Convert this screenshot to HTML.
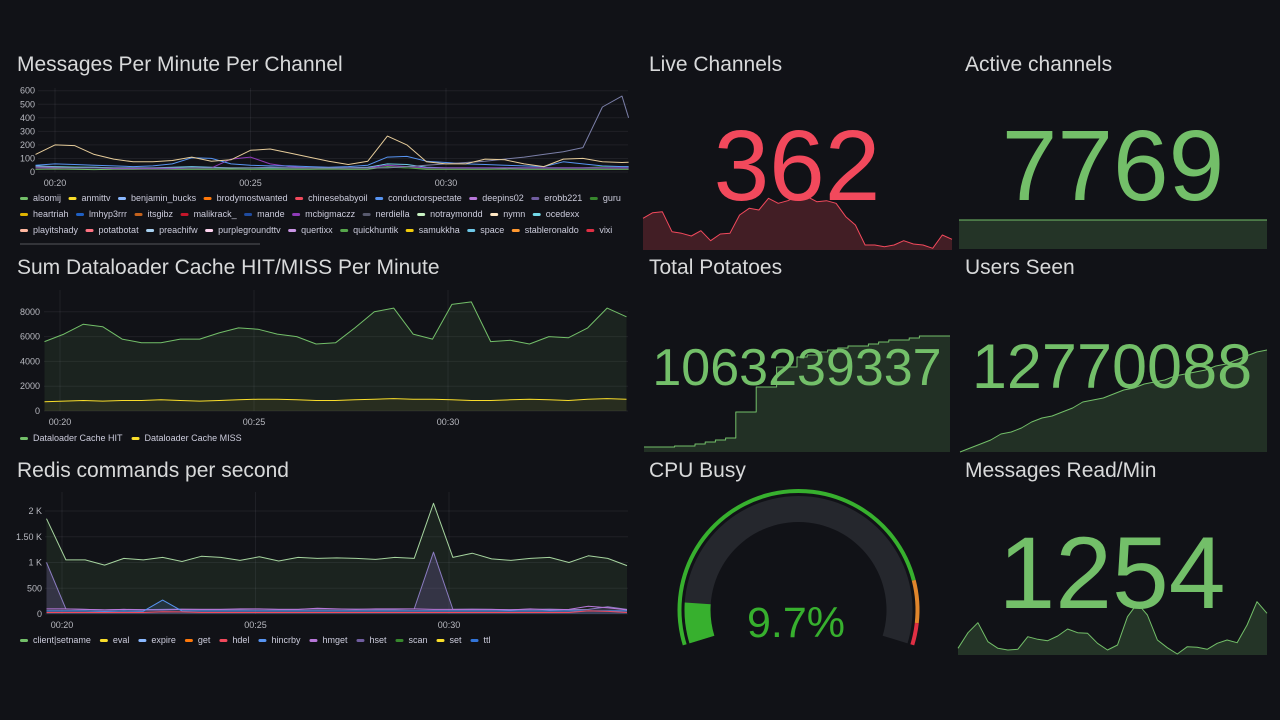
<!DOCTYPE html>
<html><head><meta charset="utf-8"><title>Dashboard</title>
<style>
html,body{margin:0;padding:0;background:#111217;}
svg{display:block;font-family:"Liberation Sans",sans-serif;}
</style></head>
<body>
<svg id="dash" width="1280" height="720" viewBox="0 0 1280 720">
<rect x="0" y="0" width="1280" height="720" fill="#111217"/>
<g font-size="21" fill="#d8d9da">
<text x="17" y="71">Messages Per Minute Per Channel</text>
<text x="17" y="274">Sum Dataloader Cache HIT/MISS Per Minute</text>
<text x="17" y="477">Redis commands per second</text>
<text x="649" y="71">Live Channels</text>
<text x="965" y="71">Active channels</text>
<text x="649" y="274">Total Potatoes</text>
<text x="965" y="274">Users Seen</text>
<text x="649" y="477">CPU Busy</text>
<text x="965" y="477">Messages Read/Min</text>
</g>
<g id="layer"></g>
</svg>
<script>
// ---- Chart 1: messages per minute per channel ----
const t1 = [19.5,20,20.5,21,21.5,22,22.5,23,23.5,24,24.5,25,25.5,26,26.5,27,27.5,28,28.5,29,29.5,30,30.5,31,31.5,32,32.5,33,33.5,34,34.5,34.67];
const nymnVals = [130,200,195,130,95,75,75,85,110,80,90,160,170,140,110,80,55,80,265,200,75,60,60,95,90,60,40,95,100,75,70,72];
const erobbVals = [40,35,30,30,30,30,30,30,30,30,30,30,35,30,30,30,30,30,30,40,50,60,70,80,95,110,130,150,180,480,560,400];
const conductorVals = [50,60,55,50,45,40,45,60,105,100,60,50,45,45,40,35,40,50,110,115,80,70,60,55,50,45,40,75,60,45,40,40];
const mcbigVals = [30,30,30,30,25,25,25,25,30,30,95,110,60,40,30,30,30,30,50,40,30,30,30,30,30,30,30,30,30,30,30,30];
const alsomijVals = [20,22,20,18,20,20,22,20,20,20,22,20,20,20,20,22,20,20,40,30,20,20,20,20,22,20,20,20,20,20,20,20];
const guruVals = [35,40,38,35,30,30,28,30,30,28,30,30,28,30,30,28,30,30,35,30,28,30,30,28,30,30,30,30,30,40,40,40];
const spaceVals = [45,40,35,35,30,30,30,35,40,35,30,30,30,30,30,30,30,35,60,55,35,30,30,30,30,30,30,30,30,30,30,30];
const ticks1 = [0,100,200,300,400,500,600];
const timeTicks = [20,25,30];
const timeLabels = ["00:20","00:25","00:30"];
const legend1 = [
 ["alsomij","anmittv","benjamin_bucks","brodymostwanted","chinesebabyoil","conductorspectate","deepins02","erobb221","guru"],
 ["heartriah","lmhyp3rrr","itsgibz","malikrack_","mande","mcbigmaczz","nerdiella","notraymondd","nymn","ocedexx"],
 ["playitshady","potatbotat","preachifw","purplegroundttv","quertixx","quickhuntik","samukkha","space","stableronaldo","vixi"]
];
const legend1Colors = [
 ["#73bf69","#fade2a","#8ab8ff","#ff780a","#f2495c","#5794f2","#b877d9","#705da0","#37872d"],
 ["#e0b400","#1f60c4","#c4621c","#c4162a","#1f4b9e","#8f3bb8","#585a6e","#c8f2c2","#ffe7c4","#73d9e8"],
 ["#ffb8a0","#ff7383","#a8d0f0","#ffd4f0","#ca95e5","#56a64b","#f2cc0c","#6ec8e8","#ff9830","#e02f44"]
];
// ---- Chart 2: dataloader ----
const t2 = [19.6,20.1,20.6,21.1,21.6,22.1,22.6,23.1,23.6,24.1,24.6,25.1,25.6,26.1,26.6,27.1,27.6,28.1,28.6,29.1,29.6,30.1,30.6,31.1,31.6,32.1,32.6,33.1,33.6,34.1,34.6];
const hitVals = [5600,6200,7000,6800,5800,5500,5500,5800,5800,6300,6700,6600,6200,6000,5400,5500,6700,8000,8300,6200,5800,8600,8800,5600,5700,5400,6000,5900,6700,8300,7600];
const missVals = [750,800,850,800,850,850,900,850,800,850,900,950,950,900,850,850,900,950,1000,950,950,900,850,850,900,950,900,850,950,1000,950];
const ticks2 = [0,2000,4000,6000,8000];
// ---- Chart 3: redis ----
const clientVals = [1850,1050,1050,950,1080,1050,1100,1020,1120,1100,1040,1110,1030,1100,1080,1090,1080,1060,1100,1080,2150,1100,1180,1070,1040,1080,1100,1000,1130,1080,940];
const hsetVals = [1000,100,90,80,90,85,90,95,90,90,90,95,90,90,100,95,95,90,90,100,1200,90,95,90,85,90,95,85,90,140,90];
const hincrbyVals = [60,60,60,50,60,55,270,60,60,60,60,60,60,60,60,60,60,60,60,60,60,60,60,60,60,60,60,60,60,60,60];
const hmgetVals = [100,100,90,80,90,80,80,90,90,90,100,100,90,90,110,100,90,100,100,100,90,90,90,90,80,100,80,90,150,120,80];
const hdelVals = [30,30,30,30,30,30,45,40,30,30,30,30,30,30,30,30,30,30,30,30,30,30,30,30,30,30,30,30,60,50,30];
const ticks3 = [0,500,1000,1500,2000];
const ticks3Labels = ["0","500","1 K","1.50 K","2 K"];
const legend3 = ["client|setname","eval","expire","get","hdel","hincrby","hmget","hset","scan","set","ttl"];
const legend3Colors = ["#73bf69","#fade2a","#8ab8ff","#ff780a","#f2495c","#5794f2","#b877d9","#705da0","#37872d","#fade2a","#3274d9"];
// ---- Stat sparklines ----
const liveVals = [95,112,115,55,50,42,58,28,48,50,105,125,120,155,140,148,162,160,145,148,140,100,75,15,15,10,15,28,18,15,5,45,32];
const activeVals = [7769,7769,7769,7769,7769,7769,7769,7769,7769,7769];
const potatoVals = [5,5,5,6,6,8,10,12,14,40,40,65,65,85,85,95,97,100,102,104,106,106,108,110,112,112,114,116,116,116,116];
const usersVals = [0,4,8,12,18,20,24,30,34,36,40,44,50,52,54,58,62,64,68,70,72,76,78,80,82,86,88,92,96,100,102];
const readVals = [20,67,97,40,20,15,17,55,47,43,57,78,67,65,35,15,30,115,155,120,45,22,3,25,23,17,35,45,37,90,160,125];
const cpuValue = 9.7;
const statValues = ["362","7769","1063239337","12770088","1254"];

const NS = "http://www.w3.org/2000/svg";
const layer = document.getElementById("layer");
function mk(tag, attrs, parent){ const e=document.createElementNS(NS,tag); for(const k in attrs) e.setAttribute(k,attrs[k]); (parent||layer).appendChild(e); return e; }
function pathFrom(xs, ys){ return xs.map((x,i)=>(i?"L":"M")+x.toFixed(1)+","+ys[i].toFixed(1)).join(""); }

function drawAxes(g, xf, yf, yticks, ylabels, x0, x1, yTop, yBot, labelX, timeY){
  yticks.forEach((v,i)=>{
    const gl = mk("line",{x1:x0,x2:x1,y1:yf(v),y2:yf(v),stroke:"#ccccdc","stroke-opacity":"0.08"},g);
    
    
    const tl = mk("text",{x:labelX,y:yf(v)+3,"text-anchor":"end","font-size":"9",fill:"#b8b9c0"},g);
    tl.textContent = ylabels ? ylabels[i] : String(v);
    
    
  });
  timeTicks.forEach((t,i)=>{
    const vl = mk("line",{x1:xf(t),x2:xf(t),y1:yTop,y2:yBot,stroke:"#ccccdc","stroke-opacity":"0.08"},g);
    
    
    const tl = mk("text",{x:xf(t),y:timeY,"text-anchor":"middle","font-size":"9",fill:"#b8b9c0"},g);
    tl.textContent = timeLabels[i];
    
    
  });
}
function series(g, ts, vals, xf, yf, color, fill, name, base){
  const xs = ts.map(xf), ys = vals.map(yf);
  if(fill){
    const a = mk("path",{d:pathFrom(xs,ys)+"L"+xs[xs.length-1]+","+base+"L"+xs[0]+","+base+"Z",fill:fill,stroke:"none"},g);
    
    
  }
  const l = mk("path",{d:pathFrom(xs,ys),fill:"none",stroke:color,"stroke-width":"1","stroke-linejoin":"round"},g);
  
  
}
function legendRow(g, names, colors, x, y, gap){
  let cx = x;
  names.forEach((n,i)=>{
    const m = mk("rect",{x:cx,y:y-4,width:8,height:3,rx:1.5,fill:colors[i]},g);
    
    
    const t = mk("text",{x:cx+13,y:y,"font-size":"9",fill:"#ccccdc"},g);
    t.textContent = n;
    
    
    cx += 13 + t.getComputedTextLength() + gap;
  });
}

// Chart 1
(function(){
  const g = mk("g",{});  
  const xf = t=>55+(t-20)*39.1, yf = v=>172-v*0.1355;
  drawAxes(g,xf,yf,ticks1,null,38,628,88,172,35,186);
  series(g,t1,alsomijVals,xf,yf,"#73bf69",null,"alsomij");
  series(g,t1,guruVals,xf,yf,"#37872d",null,"guru");
  series(g,t1,spaceVals,xf,yf,"#6ec8e8",null,"space");
  series(g,t1,mcbigVals,xf,yf,"#8f3bb8",null,"mcbigmaczz");
  series(g,t1,conductorVals,xf,yf,"#5794f2",null,"conductorspectate");
  series(g,t1,erobbVals,xf,yf,"#7b7fa8",null,"erobb221");
  series(g,t1,nymnVals,xf,yf,"#e6cc9a",null,"nymn");
  legendRow(g,legend1[0],legend1Colors[0],20,201,7.5);
  legendRow(g,legend1[1],legend1Colors[1],20,217,7.5);
  legendRow(g,legend1[2],legend1Colors[2],20,233,7.5);
  const cut = mk("rect",{x:20,y:243,width:240,height:2,fill:"#55565c","fill-opacity":"0.5"},g);
  
  
})();
// Chart 2
(function(){
  const g = mk("g",{});  
  const xf = t=>60+(t-20)*38.8, yf = v=>411-v*0.0124;
  drawAxes(g,xf,yf,ticks2,null,44,628,290,411,40,425);
  series(g,t2,hitVals,xf,yf,"#73bf69","rgba(115,191,105,0.10)","cache-hit",411);
  series(g,t2,missVals,xf,yf,"#fade2a","rgba(250,222,42,0.06)","cache-miss",411);
  legendRow(g,["Dataloader Cache HIT","Dataloader Cache MISS"],["#73bf69","#fade2a"],20,441,9);
})();
// Chart 3
(function(){
  const g = mk("g",{});  
  const xf = t=>62+(t-20)*38.7, yf = v=>614-v*0.0515;
  drawAxes(g,xf,yf,ticks3,ticks3Labels,45,628,492,614,42,628);
  series(g,t2,clientVals,xf,yf,"#a6d49f","rgba(115,191,105,0.10)","client-setname",614);
  series(g,t2,hsetVals,xf,yf,"#8a7cc0","rgba(112,93,160,0.30)","hset",614);
  series(g,t2,hmgetVals,xf,yf,"#b877d9",null,"hmget");
  series(g,t2,hincrbyVals,xf,yf,"#5794f2","rgba(87,148,242,0.15)","hincrby",614);
  series(g,t2,hdelVals,xf,yf,"#f2495c",null,"hdel");
  legendRow(g,legend3,legend3Colors,20,643,9);
})();

// Sparkline helper
function spark(vals, x0, x1, base, scale, line, fill, name, step){
  const g = mk("g",{});  
  const n = vals.length, xs=[], ys=[];
  vals.forEach((v,i)=>{
    const x = x0+(x1-x0)*i/(n-1), y = base - v*scale;
    if(step && i>0){ xs.push(x); ys.push(ys[ys.length-1]); }
    xs.push(x); ys.push(y);
  });
  series(g, xs, ys, x=>x, y=>y, line, fill, name, base);
}
spark(liveVals,643,952,250,1/3,"#f2495c","rgba(242,73,92,0.22)","live-channels-sparkline");
spark(activeVals,959,1267,249,29/7769,"#73bf69","rgba(115,191,105,0.2)","active-channels-sparkline");
spark(potatoVals,644,950,452,1,"#73bf69","rgba(115,191,105,0.18)","total-potatoes-sparkline",true);
spark(usersVals,960,1267,452,1,"#73bf69","rgba(115,191,105,0.18)","users-seen-sparkline");
spark(readVals,958,1267,655,1/3,"#73bf69","rgba(115,191,105,0.2)","messages-read-sparkline");

// Stat values
function stat(text,x,y,size,color,name){
  const t = mk("text",{x:x,y:y,"text-anchor":"middle","font-size":size,fill:color});
  t.textContent = text;
  
  
}
stat(statValues[0],797,200,100,"#f2495c","live-channels-value");
stat(statValues[1],1113,200,100,"#73bf69","active-channels-value");
stat(statValues[2],797,385,52,"#73bf69","total-potatoes-value");
stat(statValues[3],1112,388,63,"#73bf69","users-seen-value");
stat(statValues[4],1112,608,102,"#73bf69","messages-read-value");

// Gauge
(function(){
  const g = mk("g",{});  
  const cx=798.5, cy=610, a0=197, a1=-17, span=a0-a1;
  const ang = f => (a0 - span*f)*Math.PI/180;
  function arc(r1,r2,f0,f1,color,name){
    const s=ang(f0), e=ang(f1), large = (span*(f1-f0))>180?1:0;
    const p = (r,a)=>(cx+r*Math.cos(a)).toFixed(2)+","+(cy-r*Math.sin(a)).toFixed(2);
    const d = "M"+p(r2,s)+"A"+r2+","+r2+" 0 "+large+" 1 "+p(r2,e)+"L"+p(r1,e)+"A"+r1+","+r1+" 0 "+large+" 0 "+p(r1,s)+"Z";
    const el = mk("path",{d:d,fill:color},g);
    
    
  }
  arc(88,114,0,1,"#25272d","gauge-track");
  arc(88,114,0,cpuValue/100,"#37b02e","gauge-value-bar");
  arc(117,121,0,0.853,"#37b02e","threshold-green");
  arc(117,121,0.853,0.95,"#e0862c","threshold-orange");
  arc(117,121,0.95,1,"#e02f44","threshold-red");
  const t = mk("text",{x:796,y:637,"text-anchor":"middle","font-size":"43",fill:"#37b02e"},g);
  t.textContent = cpuValue.toFixed(1)+"%";
  
  
})();
</script>
</body></html>
